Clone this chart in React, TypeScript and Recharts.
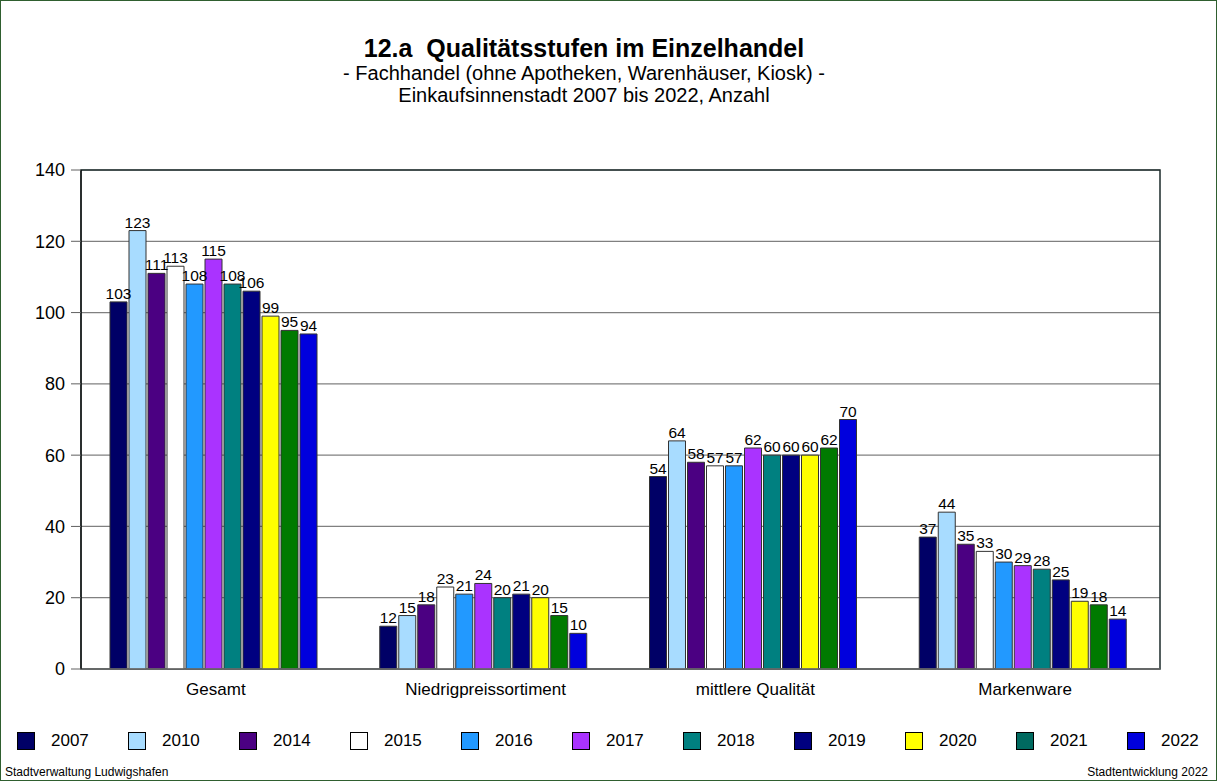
import {
  Bar,
  BarChart,
  CartesianGrid,
  LabelList,
  ReferenceArea,
  XAxis,
  YAxis
} from "recharts";

const categories = ["Gesamt", "Niedrigpreissortiment", "mittlere Qualität", "Markenware"];
const years = ["2007", "2010", "2014", "2015", "2016", "2017", "2018", "2019", "2020", "2021", "2022"];

// values per category, in year order
const gesamt = [103, 123, 111, 113, 108, 115, 108, 106, 99, 95, 94];
const niedrigpreis = [12, 15, 18, 23, 21, 24, 20, 21, 20, 15, 10];
const mittlereQualitaet = [54, 64, 58, 57, 57, 62, 60, 60, 60, 62, 70];
const markenware = [37, 44, 35, 33, 30, 29, 28, 25, 19, 18, 14];

const yTicks = [0, 20, 40, 60, 80, 100, 120, 140];

const barColors = [
  "#000066", "#a8dcff", "#4b0082", "#ffffff", "#2299ff", "#aa33ff",
  "#008080", "#000080", "#ffff00", "#007a00", "#0000dd"
];
const legendColors = [
  "#000066", "#a8dcff", "#4b0082", "#ffffff", "#2299ff", "#aa33ff",
  "#008080", "#000080", "#ffff00", "#006a60", "#0000dd"
];

const seriesByCategory = [gesamt, niedrigpreis, mittlereQualitaet, markenware];
const rows = categories.map((name, i) => {
  const row: Record<string, string | number> = { name };
  years.forEach((y, j) => {
    row[y] = seriesByCategory[i][j];
  });
  return row;
});

const font = "Arial, 'Liberation Sans', sans-serif";

export default function App() {
  return (
    <div
      style={{
        position: "absolute",
        left: 0,
        top: 0,
        width: 1217,
        height: 781,
        boxSizing: "border-box",
        border: "1px solid #2f5f2f",
        background: "#fff",
        fontFamily: font,
        color: "#000"
      }}
    >
      <div style={{ position: "absolute", left: 0, top: 0 }}>
        <BarChart
          width={1217}
          height={781}
          data={rows}
          margin={{ top: 169, right: 58, bottom: 83, left: 20 }}
          barCategoryGap={29}
          barGap={2}
        >
          <CartesianGrid vertical={false} stroke="#808080" strokeWidth={1.2} />
          <XAxis
            dataKey="name"
            height={30}
            tickLine={false}
            tickSize={0}
            tickMargin={14}
            axisLine={{ stroke: "#707070", strokeWidth: 1.5 }}
            tick={{ fill: "#000", fontSize: 17, fontFamily: font }}
          />
          <YAxis
            width={60}
            domain={[0, 140]}
            ticks={yTicks}
            interval={0}
            tickSize={10}
            tickMargin={6}
            tickLine={{ stroke: "#606060" }}
            axisLine={{ stroke: "#000" }}
            tick={{ fill: "#000", fontSize: 18, fontFamily: font }}
          />
          <ReferenceArea
            y1={0}
            y2={140}
            fill="none"
            stroke="#1d2b2b"
            strokeWidth={1.5}
          />
          {years.map((y, i) => (
            <Bar
              key={y}
              dataKey={y}
              fill={barColors[i]}
              stroke="#333"
              strokeWidth={1}
              isAnimationActive={false}
            >
              <LabelList
                dataKey={y}
                position="top"
                offset={3}
                fill="#000"
                fontSize={15.5}
                fontFamily={font}
              />
            </Bar>
          ))}
        </BarChart>
      </div>

      <div
        style={{
          position: "absolute",
          left: 0,
          width: 1166,
          top: 33,
          textAlign: "center",
          lineHeight: "22px"
        }}
      >
        <div style={{ fontSize: 25, fontWeight: "bold", lineHeight: "28px" }}>
          12.a&nbsp;&nbsp;Qualitätsstufen im Einzelhandel
        </div>
        <div style={{ fontSize: 20 }}>- Fachhandel (ohne Apotheken, Warenhäuser, Kiosk) -</div>
        <div style={{ fontSize: 20 }}>Einkaufsinnenstadt 2007 bis 2022, Anzahl</div>
      </div>

      {years.map((y, i) => (
        <div
          key={y}
          style={{
            position: "absolute",
            left: 16 + i * 111,
            top: 730,
            display: "flex",
            alignItems: "center",
            height: 20
          }}
        >
          <span
            style={{
              display: "inline-block",
              width: 18,
              height: 18,
              boxSizing: "border-box",
              border: "1px solid #000",
              background: legendColors[i]
            }}
          />
          <span style={{ marginLeft: 16, fontSize: 17 }}>{y}</span>
        </div>
      ))}

      <div style={{ position: "absolute", left: 4, top: 764, fontSize: 12 }}>
        Stadtverwaltung Ludwigshafen
      </div>
      <div style={{ position: "absolute", right: 8, top: 764, fontSize: 12 }}>
        Stadtentwicklung 2022
      </div>
    </div>
  );
}
